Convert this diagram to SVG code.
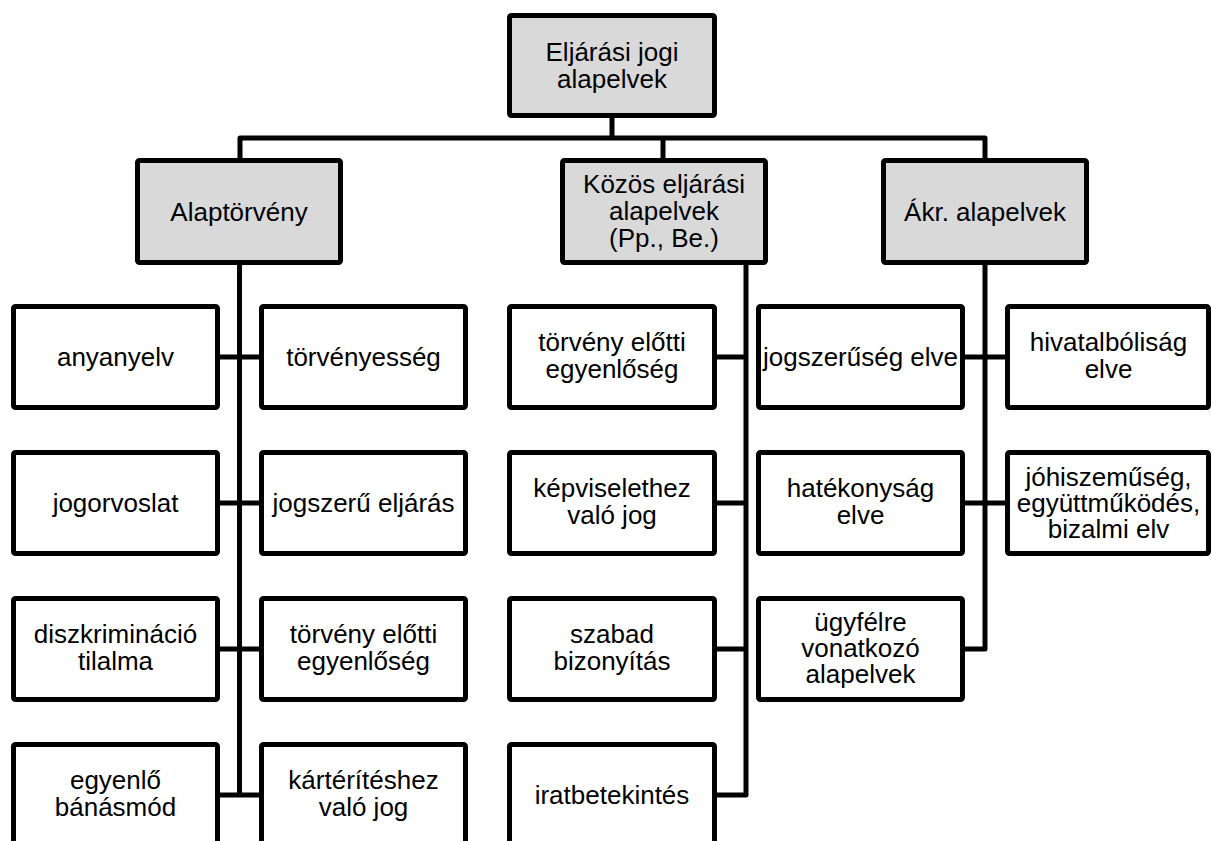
<svg xmlns="http://www.w3.org/2000/svg" width="1211" height="841" viewBox="0 0 1211 841">
<style>
.box{fill:#fff;stroke:#000;stroke-width:5;stroke-linejoin:round}
.hdr{fill:#d9d9d9;stroke:#000;stroke-width:5;stroke-linejoin:round}
.t{font-family:"Liberation Sans",Arial,sans-serif;font-size:26px;fill:#000;text-anchor:middle}
.c{fill:none;stroke:#000;stroke-width:5;stroke-linejoin:round;stroke-linecap:butt}
</style>
<rect width="1211" height="841" fill="#fff"/>
<g id="connectors">
<path class="c" d="M612,118 V138"/>
<path class="c" d="M240,160 V138 H985 V160"/>
<path class="c" d="M663,138 V160"/>
<path class="c" d="M239.5,265 V795"/>
<path class="c" d="M220,357 H259 M220,503 H259 M220,649 H259 M220,795 H259"/>
<path class="c" d="M746,265 V795 H717"/>
<path class="c" d="M717,357 H746 M717,503 H746 M717,649 H746"/>
<path class="c" d="M985,265 V649 H965"/>
<path class="c" d="M965,357 H1005 M965,503 H1005"/>
</g>
<g id="root"><rect class="hdr" x="509.5" y="15.5" width="205" height="100" rx="2"/><text class="t" x="612" y="61">Eljárási jogi</text><text class="t" x="612" y="88">alapelvek</text></g>
<g id="alaptorveny"><rect class="hdr" x="137.5" y="160.5" width="203" height="102" rx="2"/><text class="t" x="239" y="221">Alaptörvény</text></g>
<g id="kozos"><rect class="hdr" x="562.5" y="160.5" width="203" height="102" rx="2"/><text class="t" x="664" y="193">Közös eljárási</text><text class="t" x="664" y="220">alapelvek</text><text class="t" x="664" y="247">(Pp., Be.)</text></g>
<g id="akr"><rect class="hdr" x="883.5" y="160.5" width="203" height="102" rx="2"/><text class="t" x="985" y="221">Ákr. alapelvek</text></g>

<g id="anyanyelv"><rect class="box" x="13.5" y="306.5" width="204" height="101" rx="2"/><text class="t" x="115.5" y="366">anyanyelv</text></g>
<g id="torvenyesseg"><rect class="box" x="261.5" y="306.5" width="204" height="101" rx="2"/><text class="t" x="363.5" y="366">törvényesség</text></g>
<g id="jogorvoslat"><rect class="box" x="13.5" y="452.5" width="204" height="101" rx="2"/><text class="t" x="115.5" y="512">jogorvoslat</text></g>
<g id="jogszeru-eljaras"><rect class="box" x="261.5" y="452.5" width="204" height="101" rx="2"/><text class="t" x="363.5" y="512">jogszerű eljárás</text></g>
<g id="diszkriminacio"><rect class="box" x="13.5" y="598.5" width="204" height="101" rx="2"/><text class="t" x="115.5" y="643">diszkrimináció</text><text class="t" x="115.5" y="670">tilalma</text></g>
<g id="torveny-elotti-1"><rect class="box" x="261.5" y="598.5" width="204" height="101" rx="2"/><text class="t" x="363.5" y="643">törvény előtti</text><text class="t" x="363.5" y="670">egyenlőség</text></g>
<g id="egyenlo-banasmod"><rect class="box" x="13.5" y="744.5" width="204" height="101" rx="2"/><text class="t" x="115.5" y="789">egyenlő</text><text class="t" x="115.5" y="816">bánásmód</text></g>
<g id="karterites"><rect class="box" x="261.5" y="744.5" width="204" height="101" rx="2"/><text class="t" x="363.5" y="789">kártérítéshez</text><text class="t" x="363.5" y="816">való jog</text></g>

<g id="torveny-elotti-2"><rect class="box" x="509.5" y="306.5" width="205" height="101" rx="2"/><text class="t" x="612" y="351">törvény előtti</text><text class="t" x="612" y="378">egyenlőség</text></g>
<g id="kepviselet"><rect class="box" x="509.5" y="452.5" width="205" height="101" rx="2"/><text class="t" x="612" y="497">képviselethez</text><text class="t" x="612" y="524">való jog</text></g>
<g id="szabad-bizonyitas"><rect class="box" x="509.5" y="598.5" width="205" height="101" rx="2"/><text class="t" x="612" y="643">szabad</text><text class="t" x="612" y="670">bizonyítás</text></g>
<g id="iratbetekintes"><rect class="box" x="509.5" y="744.5" width="205" height="101" rx="2"/><text class="t" x="612" y="804">iratbetekintés</text></g>

<g id="jogszeruseg"><rect class="box" x="758.5" y="306.5" width="204" height="101" rx="2"/><text class="t" x="860.5" y="366">jogszerűség elve</text></g>
<g id="hivatalbolisag"><rect class="box" x="1007.5" y="306.5" width="201" height="101" rx="2"/><text class="t" x="1108.5" y="351">hivatalbóliság</text><text class="t" x="1108.5" y="378">elve</text></g>
<g id="hatekonysag"><rect class="box" x="758.5" y="452.5" width="204" height="101" rx="2"/><text class="t" x="860.5" y="497">hatékonyság</text><text class="t" x="860.5" y="524">elve</text></g>
<g id="johiszemuseg"><rect class="box" x="1007.5" y="452.5" width="201" height="101" rx="2"/><text class="t" x="1108.5" y="486">jóhiszeműség,</text><text class="t" x="1108.5" y="512">együttműködés,</text><text class="t" x="1108.5" y="538">bizalmi elv</text></g>
<g id="ugyfelre"><rect class="box" x="758.5" y="598.5" width="204" height="101" rx="2"/><text class="t" x="860.5" y="631">ügyfélre</text><text class="t" x="860.5" y="657">vonatkozó</text><text class="t" x="860.5" y="683">alapelvek</text></g>
</svg>
